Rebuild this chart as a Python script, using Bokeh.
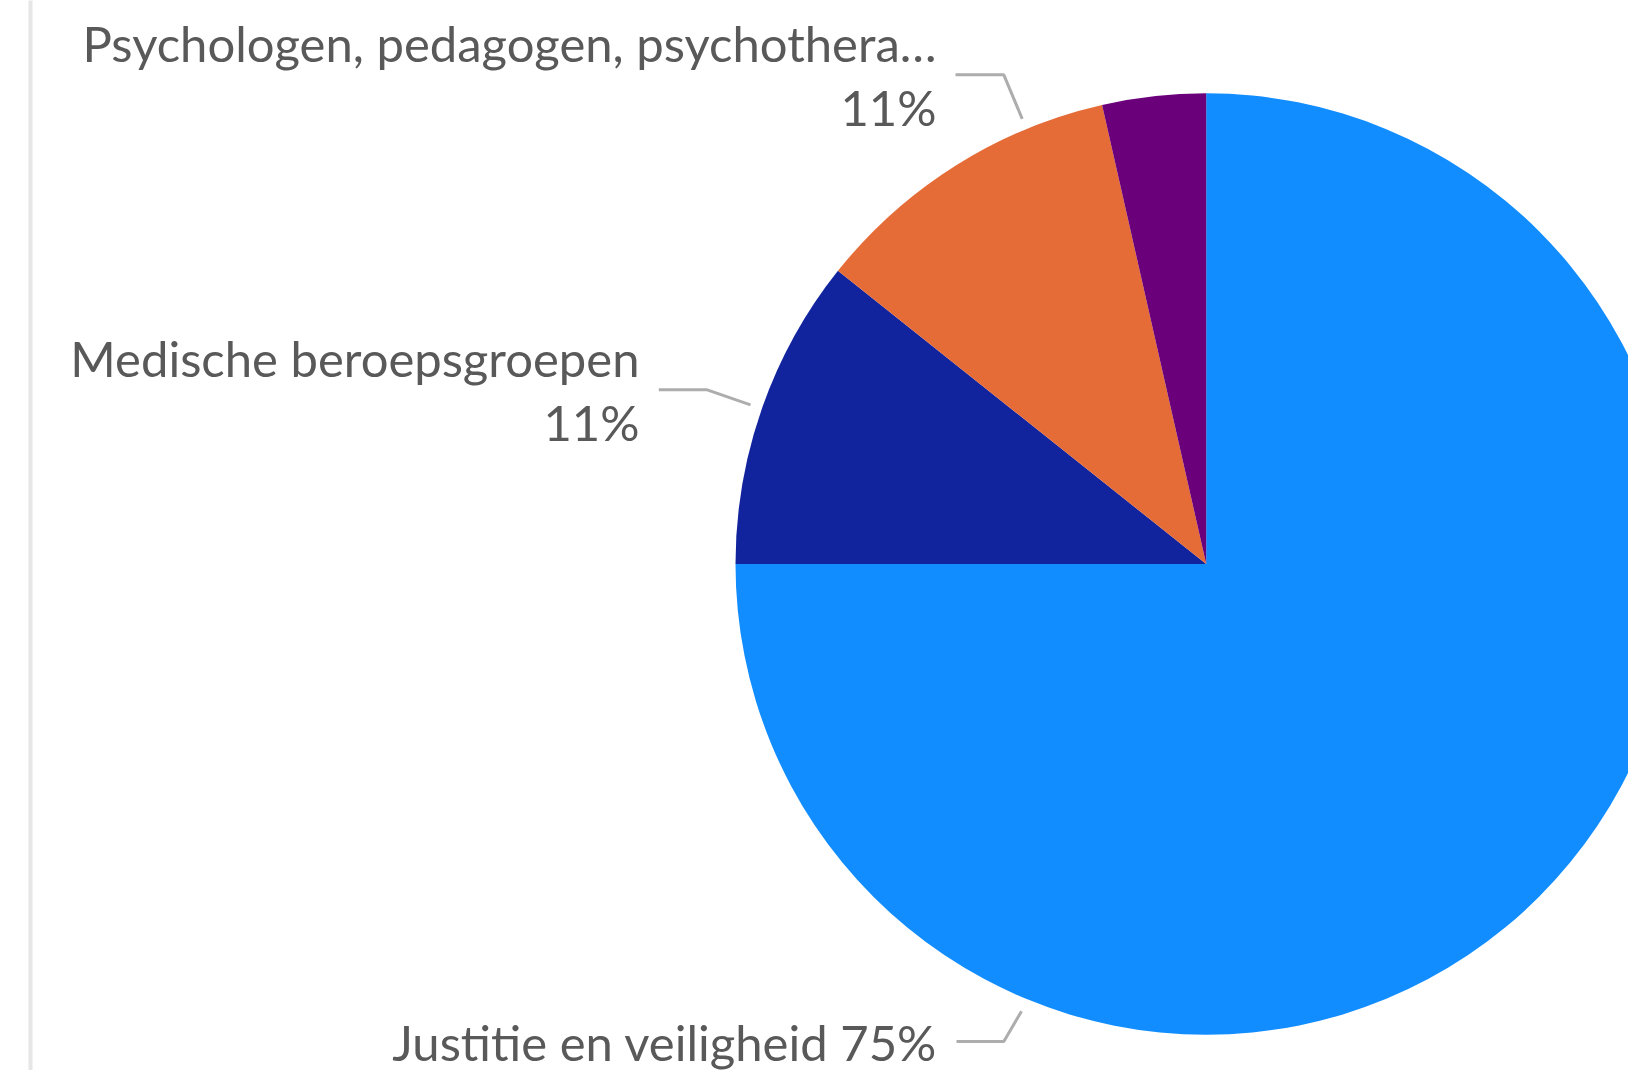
import math
from bokeh.plotting import figure
from bokeh.models import Range1d, ColumnDataSource
from bokeh.core.properties import value
from bokeh.embed import file_html
from bokeh.resources import INLINE

# ---- data ----
categories = ["Justitie en veiligheid", "Medische beroepsgroepen",
              "Psychologen, pedagogen, psychothera…", "Overig"]
shares = [75.0, 10.70, 10.75, 3.55]
colors = ["#118DFF", "#12239E", "#E66C37", "#6B007B"]
show_label = [True, True, True, False]

# ---- layout (reference pixel coordinates, y measured downward) ----
FW, FH = 1628, 1070
H = 1086
CX, CY, R = 1205.7, 563.5, 470.7
FONT = "Lato"
FSIZE = "49px"
TXT = "#595959"
LEAD = "#ADADAD"
TEXT_SHIFT = 19  # renderer places baseline lower; compensate

def Y(y):
    return H - y

p = figure(width=FW, height=FH, output_backend="svg",
           toolbar_location=None, x_range=Range1d(0, FW),
           y_range=Range1d(H - FH, H), min_border=0)
p.axis.visible = False
p.grid.visible = False
p.outline_line_color = None
p.background_fill_color = "white"

# left border line
p.quad(left=[28], right=[32], bottom=[Y(H + 10)], top=[Y(-10)],
       fill_color="#E6E6E6", line_color=None)

# pie wedges, clockwise from 12 o'clock
total = sum(shares)
cum = [0.0]
for s in shares:
    cum.append(cum[-1] + s / total)
starts = [math.pi / 2 - 2 * math.pi * cum[i + 1] for i in range(len(shares))]
ends = [math.pi / 2 - 2 * math.pi * cum[i] for i in range(len(shares))]
src = ColumnDataSource(dict(x=[CX] * len(shares), y=[Y(CY)] * len(shares),
                            start=starts, end=ends, color=colors))
p.wedge(x="x", y="y", radius=R, start_angle="start", end_angle="end",
        fill_color="color", line_color=None, source=src,
        direction="anticlock")

# labels
pct = [f"{round(s / total * 100)}%" for s in shares]
# label layouts: (right x, baseline y line1, baseline y line2 or None)
label_layout = {
    0: (937, 1060.0, None),
    1: (639, 376.7, 440.0),
    2: (936, 61.7, 125.0),
}
leader_layout = {
    0: ([956, 1003.3, 1021], [1041.0, 1041.0, 1010.7]),
    1: ([658.3, 706.7, 750], [389.3, 389.3, 404.3]),
    2: ([955, 1003.3, 1021.7], [74.3, 74.3, 118.3]),
}
tx, ty, tt = [], [], []
lx, ly = [], []
for i, name in enumerate(categories):
    if not show_label[i]:
        continue
    xr, y1, y2 = label_layout[i]
    if y2 is None:
        tx.append(xr); ty.append(Y(y1 - TEXT_SHIFT)); tt.append(f"{name} {pct[i]}")
    else:
        tx += [xr, xr]
        ty += [Y(y1 - TEXT_SHIFT), Y(y2 - TEXT_SHIFT)]
        tt += [name, pct[i]]
    xs, ys = leader_layout[i]
    lx.append(xs); ly.append([Y(v) for v in ys])

p.multi_line(xs=lx, ys=ly, line_color=LEAD, line_width=3)
p.text(x=tx, y=ty, text=tt, text_font=value(FONT), text_font_size=FSIZE,
       text_color=TXT, text_align="right", text_baseline="alphabetic")

open("out.html", "w").write(file_html(p, INLINE))
